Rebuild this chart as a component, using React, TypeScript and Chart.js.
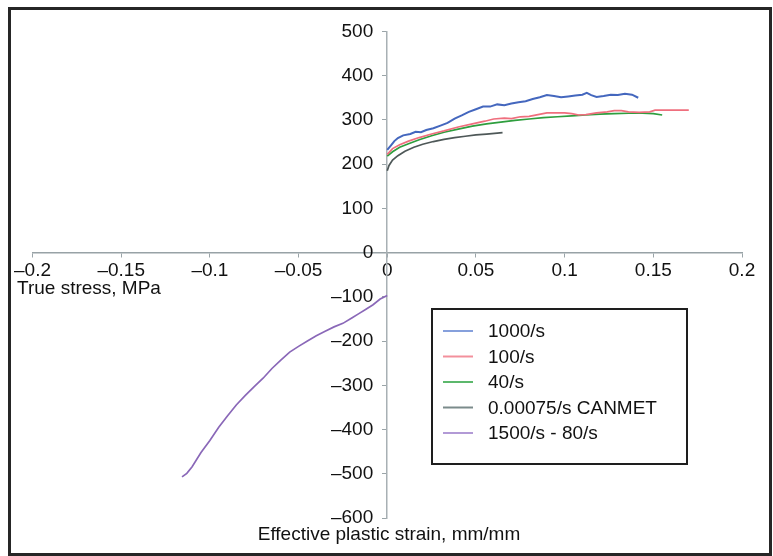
import React, { useEffect, useRef } from "react";
import { Chart, registerables } from "chart.js";

Chart.register(...registerables);

const FONT = "'Liberation Sans', Arial, Helvetica, sans-serif";

const seriesLabels = ["1000/s", "100/s", "40/s", "0.00075/s CANMET", "1500/s - 80/s"];
const lineColors = ["#4467be", "#ef6f7e", "#2e9e3e", "#4e5858", "#8a68b8"];
const legendColors = ["#86a0dc", "#f3909c", "#5cb86c", "#7b8b8b", "#b29ad6"];

const xTickValues = [-0.2, -0.15, -0.1, -0.05, 0, 0.05, 0.1, 0.15, 0.2];
const yTickValues = [-600, -500, -400, -300, -200, -100, 0, 100, 200, 300, 400, 500];

const xAxisTitle = "True stress, MPa";
const yAxisTitle = "Effective plastic strain, mm/mm";

// 1000/s
const strain1000 = [0, 0.002, 0.004, 0.006, 0.009, 0.013, 0.016, 0.019, 0.022, 0.026, 0.03, 0.034, 0.038, 0.042, 0.046, 0.05, 0.054, 0.058, 0.062, 0.066, 0.07, 0.074, 0.078, 0.082, 0.086, 0.09, 0.094, 0.098, 0.102, 0.106, 0.11, 0.1125, 0.115, 0.118, 0.122, 0.126, 0.13, 0.134, 0.138, 0.1415];
const stress1000 = [232, 242, 252, 259, 265, 268, 273, 272, 277, 281, 287, 293, 303, 310, 318, 324, 330, 330, 335, 333, 337, 340, 342, 347, 351, 356, 354, 351, 353, 355, 357, 361, 356, 352, 354, 357, 356, 359, 357, 350];

// 100/s
const strain100 = [0, 0.003, 0.007, 0.012, 0.018, 0.025, 0.032, 0.04, 0.048, 0.055, 0.06, 0.066, 0.07, 0.075, 0.08, 0.085, 0.09, 0.095, 0.1, 0.104, 0.108, 0.112, 0.118, 0.124, 0.128, 0.132, 0.136, 0.142, 0.148, 0.151, 0.16, 0.17];
const stress100 = [222, 235, 244, 252, 260, 268, 275, 284, 291, 297, 302, 304, 303, 307, 308, 312, 316, 316, 316, 314, 311, 312, 316, 318, 321, 321, 318, 317, 318, 322, 322, 322];

// 40/s
const strain40 = [0, 0.003, 0.007, 0.012, 0.018, 0.025, 0.032, 0.04, 0.048, 0.056, 0.064, 0.072, 0.08, 0.088, 0.096, 0.104, 0.112, 0.12, 0.128, 0.136, 0.144, 0.15, 0.155];
const stress40 = [218, 228, 238, 246, 255, 264, 272, 279, 286, 291, 295, 299, 302, 305, 307, 309, 311, 313, 314, 315, 315, 314, 311];

// 0.00075/s CANMET
const strainCanmet = [0, 0.001, 0.003, 0.006, 0.01, 0.015, 0.02, 0.026, 0.032, 0.038, 0.044, 0.05, 0.056, 0.062, 0.065];
const stressCanmet = [185, 197, 209, 219, 229, 238, 245, 251, 256, 260, 263, 266, 268, 270, 271];

// 1500/s - 80/s
const strain1500 = [0, -0.004, -0.008, -0.012, -0.016, -0.02, -0.025, -0.03, -0.035, -0.04, -0.045, -0.05, -0.055, -0.06, -0.065, -0.07, -0.075, -0.08, -0.085, -0.09, -0.095, -0.1, -0.105, -0.11, -0.113, -0.1157];
const stress1500 = [-97, -105, -118, -128, -138, -148, -160, -168, -178, -188, -200, -212, -225, -243, -262, -284, -303, -323, -344, -369, -395, -425, -452, -484, -499, -507];

const seriesX = [strain1000, strain100, strain40, strainCanmet, strain1500];
const seriesY = [stress1000, stress100, stress40, stressCanmet, stress1500];

const fmt = (v: number) => String(Math.round(v * 100) / 100).replace("-", "\u2013");

const overlayPlugin = {
  id: "overlay",
  afterDraw(chart: any) {
    const ctx = chart.ctx as CanvasRenderingContext2D;
    ctx.save();
    ctx.font = `19px ${FONT}`;
    ctx.fillStyle = "#111";
    ctx.textBaseline = "middle";
    ctx.textAlign = "left";
    ctx.fillText(xAxisTitle, 6, 279);
    ctx.textAlign = "center";
    ctx.fillText(yAxisTitle, 378, 525);

    // legend box
    ctx.lineWidth = 2;
    ctx.strokeStyle = "#1e1e1e";
    ctx.strokeRect(421, 299, 255, 155);
    seriesLabels.forEach((lab, i) => {
      const y = 321 + i * 25.5;
      ctx.strokeStyle = legendColors[i];
      ctx.lineWidth = 2;
      ctx.beginPath();
      ctx.moveTo(432, y);
      ctx.lineTo(462, y);
      ctx.stroke();
      ctx.fillStyle = "#111";
      ctx.textAlign = "left";
      ctx.fillText(lab, 477, y + 1);
    });
    ctx.restore();
  },
};

export default function App() {
  const ref = useRef<HTMLCanvasElement | null>(null);

  useEffect(() => {
    if (!ref.current) return;
    const datasets = seriesLabels.map((label, i) => ({
      label,
      data: seriesX[i].map((x, j) => ({ x, y: seriesY[i][j] })),
      borderColor: lineColors[i],
      backgroundColor: lineColors[i],
      borderWidth: i === 0 ? 2 : 1.7,
      pointRadius: 0,
      tension: 0,
      fill: false,
    }));
    const chart = new Chart(ref.current, {
      type: "line",
      data: { datasets },
      plugins: [overlayPlugin],
      options: {
        animation: false,
        responsive: false,
        layout: { padding: { left: 21, right: 27, top: 17, bottom: 35 } },
        plugins: { legend: { display: false }, tooltip: { enabled: false }, title: { display: false } },
        scales: {
          x: {
            type: "linear",
            position: { y: 0 },
            min: -0.2,
            max: 0.2,
            afterBuildTicks: (scale: any) => {
              scale.ticks = xTickValues.map((v) => ({ value: v }));
            },
            ticks: {
              autoSkip: false,
              maxRotation: 0,
              padding: 3,
              color: "#111",
              font: { size: 19, family: FONT },
              callback: (v: any) => fmt(Number(v)),
            },
            grid: { drawOnChartArea: false, drawTicks: true, tickLength: 4, color: "#9aa4a8" },
            border: { display: true, color: "#98a2a6", width: 1.5 },
          },
          y: {
            type: "linear",
            position: "center",
            min: -600,
            max: 500,
            afterBuildTicks: (scale: any) => {
              scale.ticks = yTickValues.map((v) => ({ value: v }));
            },
            ticks: {
              autoSkip: false,
              padding: 10,
              color: "#111",
              font: { size: 19, family: FONT },
              callback: (v: any) => String(v).replace("-", "\u2013"),
            },
            grid: { drawOnChartArea: false, drawTicks: true, tickLength: 4, color: "#9aa4a8" },
            border: { display: true, color: "#a8b0b4", width: 1.5 },
          },
        },
      } as any,
    });
    return () => chart.destroy();
  }, []);

  return (
    <div
      style={{
        position: "absolute",
        left: 8,
        top: 7,
        width: 764,
        height: 549,
        boxSizing: "border-box",
        border: "3px solid #262626",
        background: "#fff",
      }}
    >
      <canvas ref={ref} width={758} height={543} style={{ display: "block" }} />
    </div>
  );
}
